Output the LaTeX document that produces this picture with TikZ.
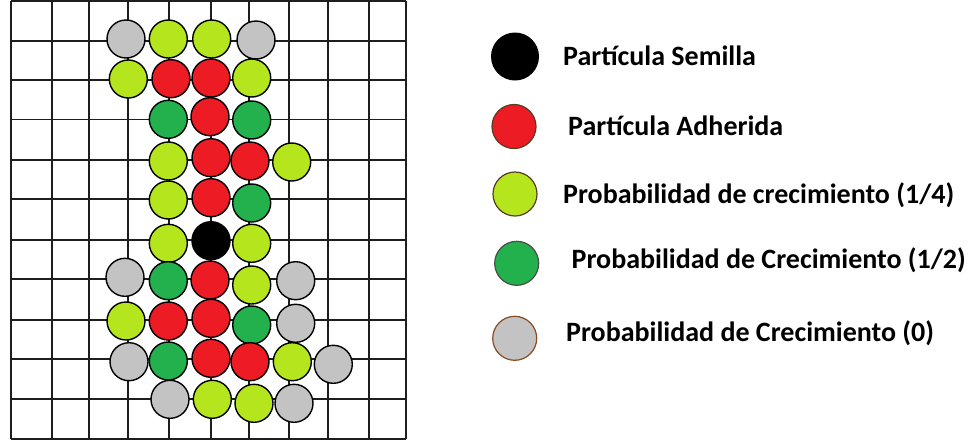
\documentclass[tikz,border=0pt]{standalone}
\usepackage{fontspec}
\setmainfont{Carlito}
\definecolor{cgray}{HTML}{C3C3C3}
\definecolor{clime}{HTML}{B5E61D}
\definecolor{cred}{HTML}{ED1C24}
\definecolor{cgreen}{HTML}{22B14C}
\definecolor{gridline}{HTML}{1E1E1E}
\definecolor{rimbrown}{HTML}{8A4A22}
\definecolor{rimdark}{HTML}{5A3A22}
\begin{document}
\begin{tikzpicture}[x=1pt,y=-1pt,
  cell/.style={circle,draw=black,line width=1.4pt,minimum size=38pt,inner sep=0pt},
  pgray/.style={cell,fill=cgray},
  plime/.style={cell,fill=clime},
  pred/.style={cell,fill=cred},
  pgreen/.style={cell,fill=cgreen},
  pseed/.style={cell,fill=black},
  key/.style={circle,minimum size=44pt,inner sep=0pt,line width=1.2pt},
  label/.style={anchor=base west,inner sep=0pt,font=\fontsize{28}{33}\selectfont\bfseries}]
\useasboundingbox (0,0) rectangle (969,445);
\fill[white] (0,0) rectangle (969,445);
% lattice
\foreach \x in {10.7,51.7,89,128.3,169.3,210.7,249.3,288.7,328.3,369.3,406}
  \draw[gridline,line width=1.7pt] (\x,0.8) -- (\x,439);
\foreach \y in {0.8,40.7,80,119.5,159.8,199.3,240,279.3,320.3,359,398.7,439}
  \draw[gridline,line width=1.7pt] (10.7,\y) -- (406,\y);
% cluster, row by row
\node[pgray]  (a1) at (126,39) {};
\node[plime]  (a2) at (168.3,39) {};
\node[plime]  (a3) at (211.7,39) {};
\node[pgray]  (a4) at (256,40) {};
\node[plime]  (b1) at (128.3,79) {};
\node[pred]   (b2) at (171,78.7) {};
\node[pred]   (b3) at (211,78) {};
\node[plime]  (b4) at (251.7,78) {};
\node[pgreen] (c1) at (168.3,119.3) {};
\node[pred]   (c2) at (210,116.7) {};
\node[pgreen] (c3) at (251.7,120) {};
\node[plime]  (d1) at (168.3,161) {};
\node[pred]   (d2) at (211,157.7) {};
\node[pred]   (d3) at (250,161) {};
\node[plime]  (d4) at (291.7,162) {};
\node[plime]  (e1) at (168.3,200) {};
\node[pred]   (e2) at (211,197.7) {};
\node[pgreen] (e3) at (251.7,203) {};
\node[plime]  (f1) at (168.3,243.3) {};
\node[pseed]  (f2) at (211,240.7) {};
\node[plime]  (f3) at (251.7,243.3) {};
\node[pgray]  (g1) at (125,277.3) {};
\node[pgreen] (g2) at (168.3,280.7) {};
\node[pred]   (g3) at (210,280) {};
\node[plime]  (g4) at (251.7,285) {};
\node[pgray]  (g5) at (295.7,280.7) {};
\node[plime]  (h1) at (126,321) {};
\node[pred]   (h2) at (168.3,321) {};
\node[pred]   (h3) at (211,318.3) {};
\node[pgreen] (h4) at (251.7,325) {};
\node[pgray]  (h5) at (295.7,323.3) {};
\node[pgray]  (i1) at (129,361.7) {};
\node[pgreen] (i2) at (168.3,361) {};
\node[pred]   (i3) at (211,358.3) {};
\node[pred]   (i4) at (250,361.7) {};
\node[plime]  (i5) at (292.3,361.7) {};
\node[pgray]  (i6) at (333.3,364.3) {};
\node[pgray]  (j1) at (170,399.3) {};
\node[plime]  (j2) at (212.3,399.3) {};
\node[plime]  (j3) at (254,403.3) {};
\node[pgray]  (j4) at (294,403.3) {};
% legend
\node[key,fill=black,minimum size=48pt] (k1) at (515,56.5) {};
\node[key,fill=cred,draw=rimdark]       (k2) at (514,126.5) {};
\node[key,fill=clime,draw=rimdark]      (k3) at (515,194) {};
\node[key,fill=cgreen,draw=gridline!80] (k4) at (516.7,263.3) {};
\node[key,fill=cgray,draw=rimbrown]     (k5) at (514.7,338.3) {};
\node[label] (t1) at (563,65)    {Partícula Semilla};
\node[label] (t2) at (568,135)   {Partícula Adherida};
\node[label] (t3) at (563,203.3) {Probabilidad de crecimiento (1/4)};
\node[label] (t4) at (571.5,268.3) {Probabilidad de Crecimiento (1/2)};
\node[label] (t5) at (566,341.7) {Probabilidad de Crecimiento (0)};
\end{tikzpicture}
\end{document}
